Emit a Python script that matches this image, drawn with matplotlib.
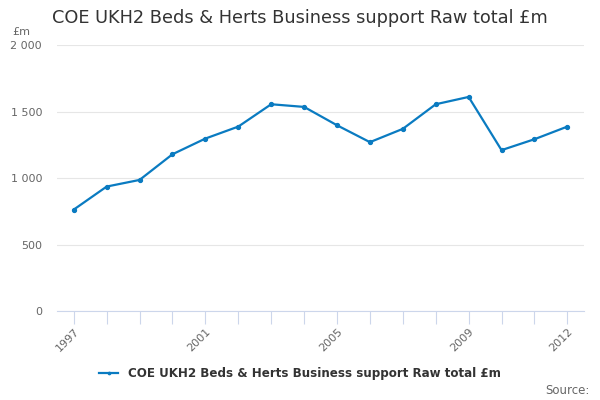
import matplotlib
matplotlib.use("Agg")
import matplotlib.pyplot as plt
from matplotlib.ticker import FuncFormatter

years = [1997, 1998, 1999, 2000, 2001, 2002, 2003, 2004,
         2005, 2006, 2007, 2008, 2009, 2010, 2011, 2012]
values = [764, 937, 987, 1180, 1298, 1388, 1556, 1536,
          1398, 1271, 1371, 1556, 1611, 1211, 1293, 1388]
label_years = [1997, 2001, 2005, 2009, 2012]
series_name = "COE UKH2 Beds & Herts Business support Raw total £m"

line_col = "#0a7bc1"
grey = "#666666"
axis_col = "#ccd6eb"

fig = plt.figure(figsize=(6, 4), dpi=100)
ax = fig.add_axes([0.0955, 0.222, 0.8775, 0.665])

ax.plot(years, values, color=line_col, lw=1.6, marker="o", ms=2.8,
        label=series_name)

ax.set_xlim(1996.5, 2012.5)
ax.set_ylim(0, 2000)
ax.set_yticks([0, 500, 1000, 1500, 2000])
ax.yaxis.set_major_formatter(FuncFormatter(lambda v, p: f"{int(v):,}".replace(",", " ")))
ax.grid(axis="y", color="#e6e6e6", lw=0.8)
ax.set_axisbelow(True)

ax.set_xticks(years, minor=True)
ax.set_xticks(label_years)
ax.set_xticklabels([str(y) for y in label_years], rotation=45, ha="right",
                   rotation_mode="anchor", fontsize=8, color=grey)
ax.tick_params(axis="x", which="both", length=9, color=axis_col, width=0.8,
               direction="out", pad=2)
ax.tick_params(axis="y", length=0, labelsize=8, labelcolor=grey, pad=11)

for s in ["top", "right", "left"]:
    ax.spines[s].set_visible(False)
ax.spines["bottom"].set_color(axis_col)
ax.spines["bottom"].set_linewidth(0.8)

fig.text(0.087, 0.955, "COE UKH2 Beds & Herts Business support Raw total £m",
         fontsize=12.75, color="#333333", va="center")
fig.text(0.02, 0.92, "£m", fontsize=8, color=grey, va="center")

leg = fig.legend(loc="center", bbox_to_anchor=(0.5, 0.067), frameon=False,
                 prop={"weight": "bold", "size": 8.6}, handlelength=1.6,
                 markerscale=0.6)
for t in leg.get_texts():
    t.set_color("#333333")

fig.text(0.982, 0.025, "Source:", fontsize=8.5, color=grey, ha="right", va="center")

fig.savefig("out.png", dpi=100)
